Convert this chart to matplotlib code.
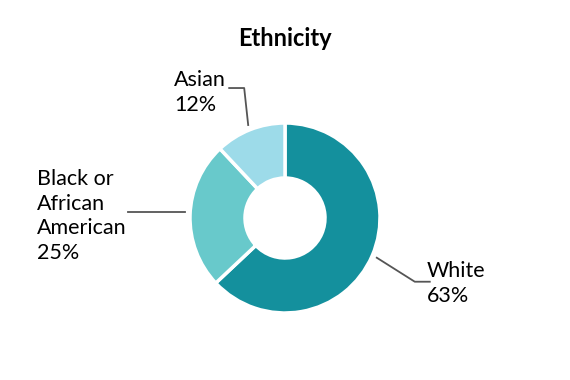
import numpy as np
import matplotlib
matplotlib.use("Agg")
import matplotlib.pyplot as plt

title = "Ethnicity"
categories = ["White", "Black or\nAfrican\nAmerican", "Asian"]
values = [63, 25, 12]
colors = ["#14909D", "#68C9CB", "#9DDBE9"]

W, H = 570, 380
fig = plt.figure(figsize=(5.7, 3.8), dpi=100)
ax = fig.add_axes([0, 0, 1, 1])
ax.set_xlim(0, W)
ax.set_ylim(0, H)
ax.set_aspect("equal")
ax.axis("off")

cx, cy, R, r_in = 285, 162, 95, 40
wedges, _ = ax.pie(values, colors=colors, startangle=90, counterclock=False,
                   center=(cx, cy), radius=R,
                   wedgeprops=dict(width=R - r_in, edgecolor="white", linewidth=2.5))
ax.set_xlim(0, W)
ax.set_ylim(0, H)

font = "Lato"
fs = 15.5
lc = "#555555"
ls = 1.3

for i, w in enumerate(wedges):
    ang = np.deg2rad((w.theta1 + w.theta2) / 2)
    sx, sy = cx + (R + 5) * np.cos(ang), cy + (R + 5) * np.sin(ang)
    txt = f"{categories[i]}\n{values[i]}%"
    if i == 0:
        ex, ey = sx + 38, sy - 24
        ax.plot([sx, ex, ex + 15], [sy, ey, ey], color=lc, lw=1.3)
        ax.text(ex + 12, ey + 21, txt, ha="left", va="top", fontsize=fs,
                family=font, linespacing=ls)
    elif i == 1:
        ax.plot([sx, sx - 57], [sy + 3, sy + 3], color=lc, lw=1.3)
        ax.text(37, sy + 3 + 43, txt, ha="left", va="top", fontsize=fs,
                family=font, linespacing=ls)
    else:
        ex, ey = sx - 4, sy + 37
        ax.plot([sx, ex, ex - 15], [sy, ey, ey], color=lc, lw=1.3)
        ax.text(174, ey + 18, txt, ha="left", va="top", fontsize=fs,
                family=font, linespacing=ls)

ax.text(cx, H - 38, title, ha="center", va="center", fontsize=17,
        fontweight="bold", family=font)

fig.savefig("out.png", dpi=100, facecolor="white")
